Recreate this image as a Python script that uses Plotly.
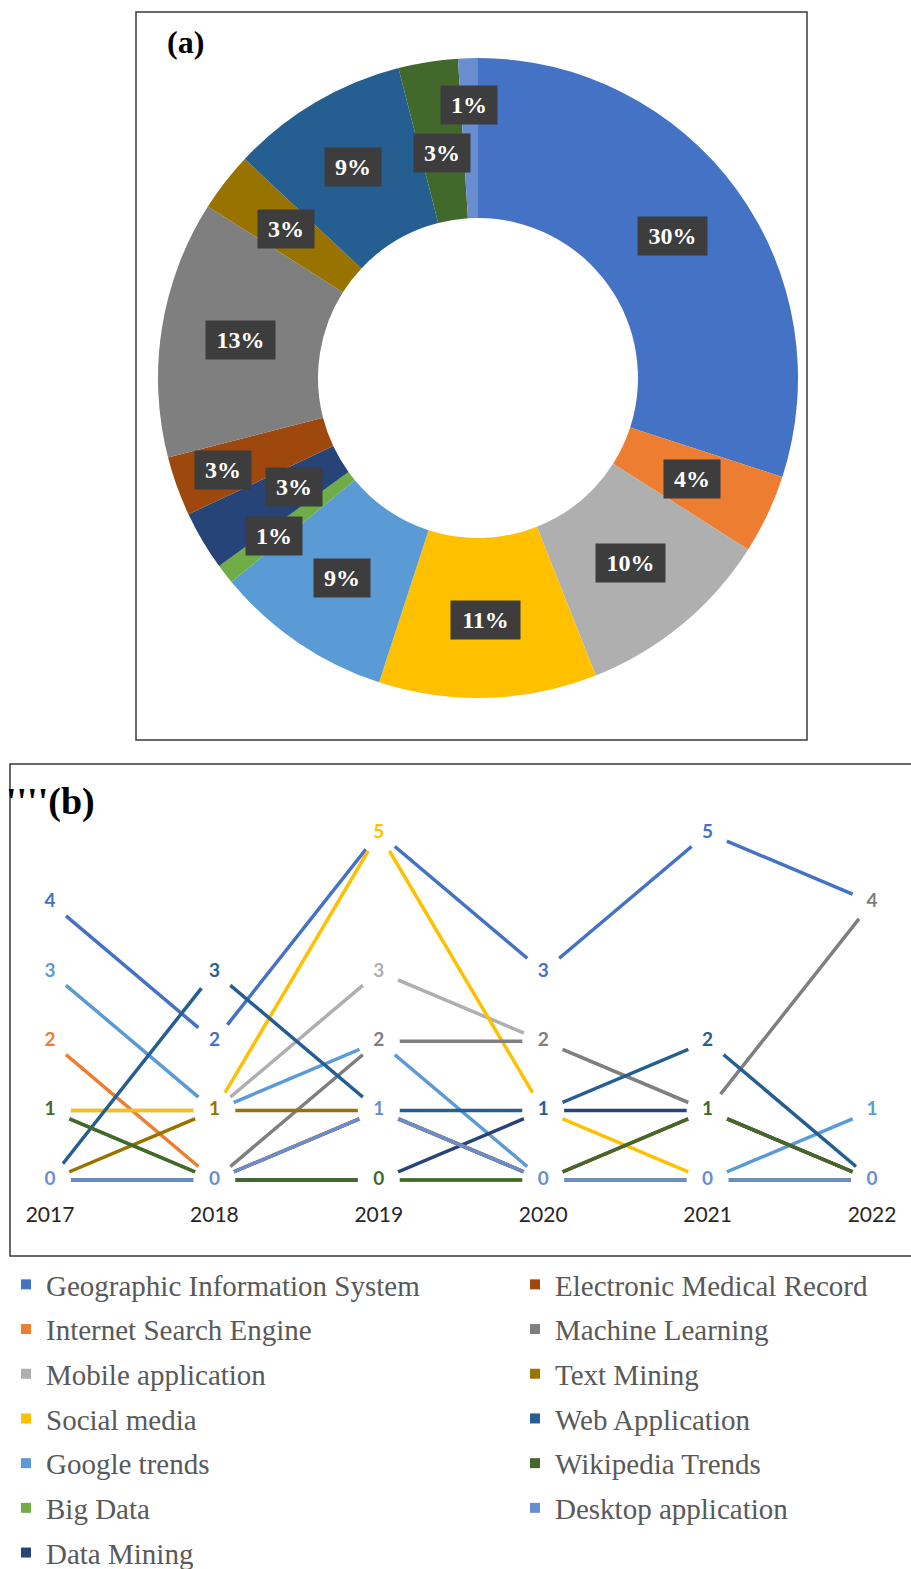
import math
import plotly.graph_objects as go

W, H = 911, 1569

# ---------------- data ----------------
categories = [
    "Geographic Information System", "Internet Search Engine", "Mobile application",
    "Social media", "Google trends", "Big Data", "Data Mining",
    "Electronic Medical Record", "Machine Learning", "Text Mining",
    "Web Application", "Wikipedia Trends", "Desktop application",
]
share_pct = [30, 4, 10, 11, 9, 1, 3, 3, 13, 3, 9, 3, 1]

years = [2017, 2018, 2019, 2020, 2021, 2022]
year_labels = ["2017", "2018", "2019", "2020", "2021", "2022"]

gis = [4, 2, 5, 3, 5, 4]
search_engine = [2, 0, 1, 0, 0, 0]
mobile_app = [1, 1, 3, 2, 1, 0]
social_media = [1, 1, 5, 1, 0, 0]
google_trends = [3, 1, 2, 0, 0, 1]
big_data = [1, 0, 0, 0, 0, 0]
data_mining = [0, 0, 0, 1, 1, 0]
medical_record = [0, 0, 1, 0, 1, 0]
machine_learning = [0, 0, 2, 2, 1, 4]
text_mining = [0, 1, 1, 0, 0, 0]
web_app = [0, 3, 1, 1, 2, 0]
wikipedia = [1, 0, 0, 0, 1, 0]
desktop_app = [0, 0, 1, 0, 0, 0]

series = [gis, search_engine, mobile_app, social_media, google_trends, big_data,
          data_mining, medical_record, machine_learning, text_mining, web_app,
          wikipedia, desktop_app]

# ---------------- styles ----------------
colors = ["#4472C4", "#ED7D31", "#AFAFAF", "#FFC000", "#5B9BD5", "#70AD47",
          "#264478", "#9E480E", "#7F7F7F", "#997300", "#255E91", "#43682B",
          "#698ED0"]
label_r = [241, 237, 240, 242, 242, 258, 214, 271, 240, 243, 245, 228, 273]
legend_col = [1, 1, 1, 1, 1, 1, 1, 2, 2, 2, 2, 2, 2]

fig = go.Figure()

# ---------------- panel (a): doughnut ----------------
cx, cy, R = 478, 378, 320
fig.add_trace(go.Pie(
    values=share_pct, labels=categories, sort=False, direction="clockwise",
    rotation=0, hole=0.5, textinfo="none", hoverinfo="skip",
    marker=dict(colors=colors, line=dict(width=0)),
    domain=dict(x=[(cx - R) / W, (cx + R) / W], y=[1 - (cy + R) / H, 1 - (cy - R) / H]),
    showlegend=False,
))

total = sum(share_pct)
cum = 0
annotations = []
for i, v in enumerate(share_pct):
    a = math.radians((cum + v / 2) / total * 360)
    cum += v
    px = cx + label_r[i] * math.sin(a)
    py = cy - label_r[i] * math.cos(a)
    txt = f"{v}%"
    annotations.append(dict(
        x=px / W, y=1 - py / H, xref="paper", yref="paper", showarrow=False,
        text=f"<b>{txt}</b>", font=dict(family="Liberation Serif", size=24, color="white"),
        bgcolor="#3d3d3d", borderpad=3, width=13 * len(txt) + 24, height=32,
        xanchor="center", yanchor="middle",
    ))

annotations.append(dict(x=185 / W, y=1 - 42 / H, xref="paper", yref="paper", showarrow=False,
                        text="<b>(a)</b>", font=dict(family="Liberation Serif", size=32, color="black"),
                        xanchor="center", yanchor="middle"))
annotations.append(dict(x=4 / W, y=1 - 801 / H, xref="paper", yref="paper", showarrow=False,
                        text="<b>''''(b)</b>", font=dict(family="Liberation Serif", size=38, color="black"),
                        xanchor="left", yanchor="middle"))

# ---------------- panel (b): slope lines ----------------
for i, s in enumerate(series):
    fig.add_trace(go.Scatter(
        x=years, y=s, mode="lines", line=dict(color=colors[i], width=3.5),
        showlegend=False, hoverinfo="skip", xaxis="x", yaxis="y",
    ))

# label positions: topmost series (last drawn) at each point
pts_x, pts_y, pts_c = [], [], []
for j, yr in enumerate(years):
    top = {}
    for i, s in enumerate(series):
        top[s[j]] = i
    for val, i in top.items():
        pts_x.append(yr)
        pts_y.append(val)
        pts_c.append(colors[i])

fig.add_trace(go.Scatter(
    x=pts_x, y=pts_y, mode="markers",
    marker=dict(symbol="circle", size=42, color="white", line=dict(width=0)),
    showlegend=False, hoverinfo="skip", xaxis="x", yaxis="y",
))
fig.add_trace(go.Scatter(
    x=pts_x, y=pts_y, mode="text", text=[f"<b>{v}</b>" for v in pts_y],
    textfont=dict(family="Lato", size=19, color=pts_c),
    textposition="middle center",
    showlegend=False, hoverinfo="skip", xaxis="x", yaxis="y",
))

# legend entries (square swatches)
for i, name in enumerate(categories):
    fig.add_trace(go.Scatter(
        x=[None], y=[None], mode="markers", name=name,
        marker=dict(symbol="square", size=10, color=colors[i]),
        legend="legend" if legend_col[i] == 1 else "legend2",
        legendgroup=name, showlegend=True, xaxis="x", yaxis="y",
    ))

# axis geometry
x_px0, x_step = 50, 164.4
y_px0, y_step = 1180, 69.4
top_px, bot_px = 764, 1256
fig.update_layout(
    xaxis=dict(
        domain=[0, 1],
        range=[years[0] - x_px0 / x_step, years[0] + (W - x_px0) / x_step],
        tickvals=years, ticktext=year_labels, anchor="free",
        position=1 - 1200 / H, showgrid=False, zeroline=False, showline=False,
        ticks="", tickfont=dict(family="Lato", size=21, color="#262626"),
    ),
    yaxis=dict(
        domain=[1 - bot_px / H, 1 - top_px / H],
        range=[-(bot_px - y_px0) / y_step, (y_px0 - top_px) / y_step],
        visible=False,
    ),
)

legend_font = dict(family="Liberation Serif", size=29, color="#595959")
fig.update_layout(
    width=W, height=H, margin=dict(l=0, r=0, t=0, b=0, autoexpand=False),
    paper_bgcolor="white", plot_bgcolor="rgba(0,0,0,0)",
    annotations=annotations,
    legend=dict(x=6 / W, y=1 - 1259 / H, xanchor="left", yanchor="top",
                font=legend_font, tracegroupgap=4, bgcolor="rgba(0,0,0,0)",
                itemclick=False),
    legend2=dict(x=515 / W, y=1 - 1259 / H, xanchor="left", yanchor="top",
                 font=legend_font, tracegroupgap=4, bgcolor="rgba(0,0,0,0)",
                 itemclick=False),
    shapes=[
        dict(type="rect", xref="paper", yref="paper", x0=136 / W, x1=807 / W,
             y0=1 - 740 / H, y1=1 - 12 / H, line=dict(color="#3a3a3a", width=1.5)),
        dict(type="rect", xref="paper", yref="paper", x0=10 / W, x1=1.01,
             y0=1 - 1256 / H, y1=1 - 764 / H, line=dict(color="#3a3a3a", width=1.5)),
    ],
)

fig.write_html(
    "out.html",
    config={"displayModeBar": False},
    post_script=(
        "document.body.style.margin='0';document.body.style.padding='0';"
        "document.documentElement.style.overflow='hidden';"
    ),
)
